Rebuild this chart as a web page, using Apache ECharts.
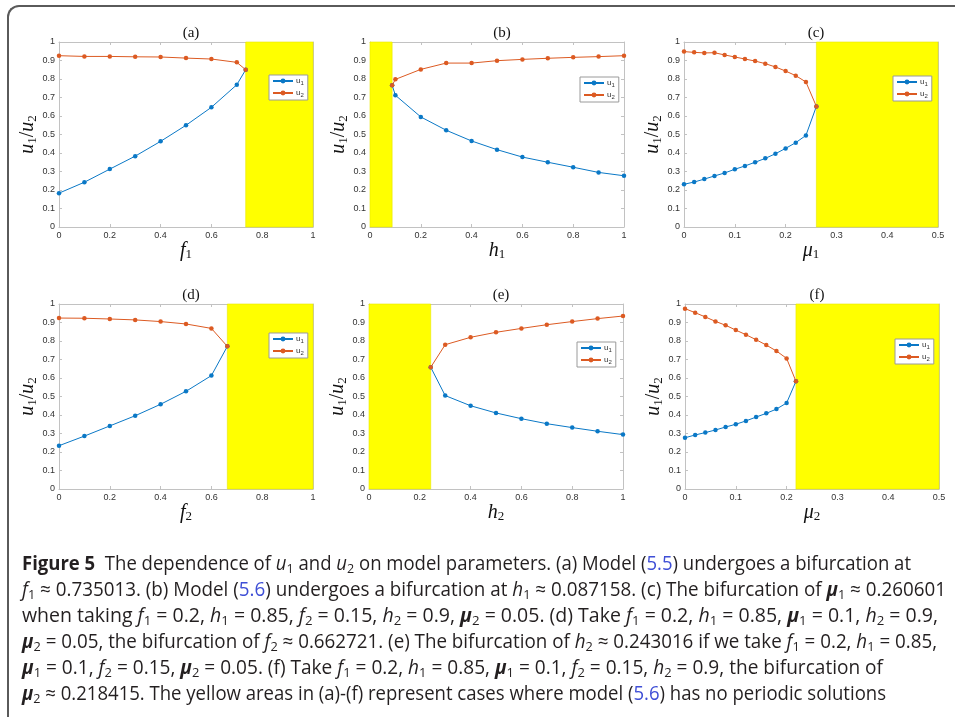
<!DOCTYPE html>
<html>
<head>
<meta charset="utf-8">
<script src="https://cdn.jsdelivr.net/npm/echarts@6.0.0/dist/echarts.min.js"></script>
<style>
  body { margin: 0; background: #fff; }
  #frame { position: absolute; left: 7px; top: 5px; width: 990px; height: 712px;
           border-left: 2px solid #5a5a5a; border-top: 2px solid #5a5a5a; border-top-left-radius: 12px; }
  #main { position: absolute; left: 0; top: 0; width: 955px; height: 717px; }
  #caption { position: absolute; left: 22px; top: 550px; font-family: "Open Sans", sans-serif;
             font-size: 19.5px; line-height: 26px; color: #231f20; }
  #caption .ln { white-space: nowrap; display: block; width: max-content; transform-origin: 0 50%; }
  #caption sub { font-size: 68%; vertical-align: -0.25em; line-height: 0; }
  #caption .lk { color: #3f4fd6; }
  #caption .mu { font-weight: bold; font-style: italic; }
</style>
</head>
<body>
<div id="main"></div>
<div id="frame"></div>
<div id="caption">
  <div class="ln"><b>Figure 5</b>&nbsp; The dependence of <i>u</i><sub>1</sub> and <i>u</i><sub>2</sub> on model parameters. (a) Model (<span class="lk">5.5</span>) undergoes a bifurcation at</div>
  <div class="ln"><i>f</i><sub>1</sub> ≈ 0.735013. (b) Model (<span class="lk">5.6</span>) undergoes a bifurcation at <i>h</i><sub>1</sub> ≈ 0.087158. (c) The bifurcation of <span class="mu">μ</span><sub>1</sub> ≈ 0.260601</div>
  <div class="ln">when taking <i>f</i><sub>1</sub> = 0.2, <i>h</i><sub>1</sub> = 0.85, <i>f</i><sub>2</sub> = 0.15, <i>h</i><sub>2</sub> = 0.9, <span class="mu">μ</span><sub>2</sub> = 0.05. (d) Take <i>f</i><sub>1</sub> = 0.2, <i>h</i><sub>1</sub> = 0.85, <span class="mu">μ</span><sub>1</sub> = 0.1, <i>h</i><sub>2</sub> = 0.9,</div>
  <div class="ln"><span class="mu">μ</span><sub>2</sub> = 0.05, the bifurcation of <i>f</i><sub>2</sub> ≈ 0.662721. (e) The bifurcation of <i>h</i><sub>2</sub> ≈ 0.243016 if we take <i>f</i><sub>1</sub> = 0.2, <i>h</i><sub>1</sub> = 0.85,</div>
  <div class="ln"><span class="mu">μ</span><sub>1</sub> = 0.1, <i>f</i><sub>2</sub> = 0.15, <span class="mu">μ</span><sub>2</sub> = 0.05. (f) Take <i>f</i><sub>1</sub> = 0.2, <i>h</i><sub>1</sub> = 0.85, <span class="mu">μ</span><sub>1</sub> = 0.1, <i>f</i><sub>2</sub> = 0.15, <i>h</i><sub>2</sub> = 0.9, the bifurcation of</div>
  <div class="ln"><span class="mu">μ</span><sub>2</sub> ≈ 0.218415. The yellow areas in (a)-(f) represent cases where model (<span class="lk">5.6</span>) has no periodic solutions</div>
</div>
<script>
// (a) f1
var xA = [0, 0.1, 0.2, 0.3, 0.4, 0.5, 0.6, 0.7, 0.735013];
var u1A = [0.183, 0.242, 0.313, 0.383, 0.463, 0.550, 0.647, 0.769, 0.850];
var u2A = [0.926, 0.922, 0.922, 0.920, 0.919, 0.913, 0.908, 0.890, 0.850];
// (b) h1
var xB = [0.087158, 0.1, 0.2, 0.3, 0.4, 0.5, 0.6, 0.7, 0.8, 0.9, 1];
var u1B = [0.766, 0.712, 0.595, 0.523, 0.465, 0.418, 0.378, 0.350, 0.323, 0.295, 0.277];
var u2B = [0.766, 0.798, 0.852, 0.886, 0.886, 0.899, 0.906, 0.912, 0.917, 0.921, 0.926];
// (c) mu1
var xC = [0, 0.02, 0.04, 0.06, 0.08, 0.1, 0.12, 0.14, 0.16, 0.18, 0.2, 0.22, 0.24, 0.260601];
var u1C = [0.231, 0.243, 0.259, 0.276, 0.292, 0.312, 0.330, 0.350, 0.371, 0.396, 0.425, 0.456, 0.495, 0.652];
var u2C = [0.948, 0.944, 0.941, 0.942, 0.930, 0.919, 0.908, 0.897, 0.883, 0.865, 0.843, 0.818, 0.784, 0.652];
// (d) f2
var xD = [0, 0.1, 0.2, 0.3, 0.4, 0.5, 0.6, 0.662721];
var u1D = [0.234, 0.286, 0.341, 0.396, 0.458, 0.528, 0.613, 0.771];
var u2D = [0.924, 0.923, 0.919, 0.914, 0.905, 0.892, 0.868, 0.771];
// (e) h2
var xE = [0.243016, 0.3, 0.4, 0.5, 0.6, 0.7, 0.8, 0.9, 1];
var u1E = [0.658, 0.505, 0.450, 0.411, 0.380, 0.353, 0.332, 0.312, 0.294];
var u2E = [0.658, 0.780, 0.820, 0.847, 0.868, 0.888, 0.905, 0.921, 0.935];
// (f) mu2
var xF = [0, 0.02, 0.04, 0.06, 0.08, 0.1, 0.12, 0.14, 0.16, 0.18, 0.2, 0.218415];
var u1F = [0.277, 0.292, 0.305, 0.319, 0.335, 0.350, 0.368, 0.389, 0.409, 0.432, 0.465, 0.582];
var u2F = [0.975, 0.953, 0.930, 0.906, 0.885, 0.859, 0.834, 0.807, 0.778, 0.746, 0.706, 0.582];

// yellow: no periodic solution
var noPeriodic = [[0.735013, 1], [0, 0.087158], [0.260601, 0.5], [0.662721, 1], [0, 0.243016], [0.218415, 0.5]];
var xMax = [1, 1, 0.5, 1, 1, 0.5];
var xStep = [0.2, 0.2, 0.1, 0.2, 0.2, 0.1];
var labels = ['(a)', '(b)', '(c)', '(d)', '(e)', '(f)'];
var xNames = [['f', '1'], ['h', '1'], ['μ', '1'], ['f', '2'], ['h', '2'], ['μ', '2']];
var yTicks = [0, 1, 0.1];

var panels = [
  [xA, u1A, u2A], [xB, u1B, u2B], [xC, u1C, u2C],
  [xD, u1D, u2D], [xE, u1E, u2E], [xF, u1F, u2F]
];

// layout (px)
var gridPos = [
  [59, 42], [370, 42], [684, 42],
  [59, 304], [369, 304], [685, 304]
];
var legendPos = [
  [269, 75], [580, 77], [893, 76],
  [269, 333], [577, 342], [895, 339]
];

var BLUE = '#0a78c6', ORANGE = '#dc5a22';
var AX = '#c2c2c2', TXT = '#333';
var serif = '"Liberation Serif", "DejaVu Serif", serif';

var nameRich = {
  i: { fontFamily: serif, fontStyle: 'italic', fontSize: 20, color: '#111' },
  s: { fontFamily: serif, fontSize: 13, color: '#111', padding: [8, 0, 0, 0] },
  n: { fontFamily: serif, fontSize: 20, color: '#111' }
};

var option = {
  animation: false,
  title: [], grid: [], xAxis: [], yAxis: [], legend: [], series: []
};

function axisBase(show) {
  return {
    type: 'value',
    axisLine: { show: true, onZero: false, lineStyle: { color: AX, width: 1 } },
    axisTick: { show: true, inside: true, length: 3, lineStyle: { color: AX } },
    axisLabel: { show: show, fontSize: 9, color: TXT, fontFamily: '"Liberation Sans", Arial, sans-serif', margin: 4 },
    splitLine: { show: false }
  };
}

panels.forEach(function (p, i) {
  var g = gridPos[i];
  option.grid.push({ left: g[0], top: g[1], width: 254, height: 185, containLabel: false, outerBoundsMode: 'none' });
  option.title.push({
    text: labels[i], left: g[0] + 127, top: g[1] - 21, textAlign: 'center',
    textStyle: { fontFamily: serif, fontWeight: 'normal', fontSize: 15, color: '#111' }
  });

  var xb = axisBase(true);
  Object.assign(xb, {
    gridIndex: i, position: 'bottom', min: 0, max: xMax[i], interval: xStep[i],
    name: '{i|' + xNames[i][0] + '}{s|' + xNames[i][1] + '}',
    nameLocation: 'middle', nameGap: 13, nameTextStyle: { rich: nameRich }
  });
  var xt = axisBase(false);
  Object.assign(xt, { gridIndex: i, position: 'top', min: 0, max: xMax[i], interval: xStep[i] });
  option.xAxis.push(xb, xt);

  var yl = axisBase(true);
  Object.assign(yl, {
    gridIndex: i, position: 'left', min: yTicks[0], max: yTicks[1], interval: yTicks[2],
    name: '{i|u}{s|1}{n|/}{i|u}{s|2}', nameLocation: 'middle', nameGap: 17, nameRotate: 90,
    nameTextStyle: { rich: nameRich }
  });
  var yr = axisBase(false);
  Object.assign(yr, { gridIndex: i, position: 'right', min: yTicks[0], max: yTicks[1], interval: yTicks[2] });
  option.yAxis.push(yl, yr);

  var ax = 2 * i;
  var n1 = labels[i] + 'u1', n2 = labels[i] + 'u2';

  // yellow region
  option.series.push({
    type: 'line', xAxisIndex: ax, yAxisIndex: ax, data: [], z: 1, silent: true,
    markArea: {
      silent: true,
      itemStyle: { color: '#ffff00', borderColor: '#e8e800', borderWidth: 0.6 },
      data: [[{ xAxis: noPeriodic[i][0] }, { xAxis: noPeriodic[i][1] }]]
    }
  });
  [[n1, p[1], BLUE], [n2, p[2], ORANGE]].forEach(function (s) {
    option.series.push({
      name: s[0], type: 'line', xAxisIndex: ax, yAxisIndex: ax, z: 3,
      data: p[0].map(function (x, k) { return [x, s[1][k]]; }),
      symbol: 'circle', symbolSize: 4.5, showSymbol: true,
      lineStyle: { width: 1, color: s[2] }, itemStyle: { color: s[2] }
    });
  });

  option.legend.push({
    data: [n1, n2], orient: 'vertical', left: legendPos[i][0], top: legendPos[i][1],
    backgroundColor: '#fff', borderColor: '#9a9a9a', borderWidth: 1, borderRadius: 0,
    padding: [2, 4, 2, 3], itemGap: 3, itemWidth: 20, itemHeight: 6,
    selectedMode: false,
    formatter: function (name) { return '{t|u}{s|' + name.slice(-1) + '}'; },
    textStyle: {
      padding: [0, 0, 0, -2],
      rich: {
        t: { fontSize: 8, color: TXT, fontFamily: '"Liberation Sans", sans-serif' },
        s: { fontSize: 6, color: TXT, fontFamily: '"Liberation Sans", sans-serif', padding: [4, 0, 0, 0] }
      }
    }
  });
});

var myChart = echarts.init(document.getElementById('main'), null, { renderer: 'canvas' });
option && myChart.setOption(option);

// squeeze caption lines to the reference widths
var lineWidths = [889, 924, 916, 915, 861, 864];
document.querySelectorAll('#caption .ln').forEach(function (el, k) {
  var w = el.getBoundingClientRect().width;
  el.style.transform = 'scaleX(' + (lineWidths[k] / w) + ')';
});
</script>
</body>
</html>
